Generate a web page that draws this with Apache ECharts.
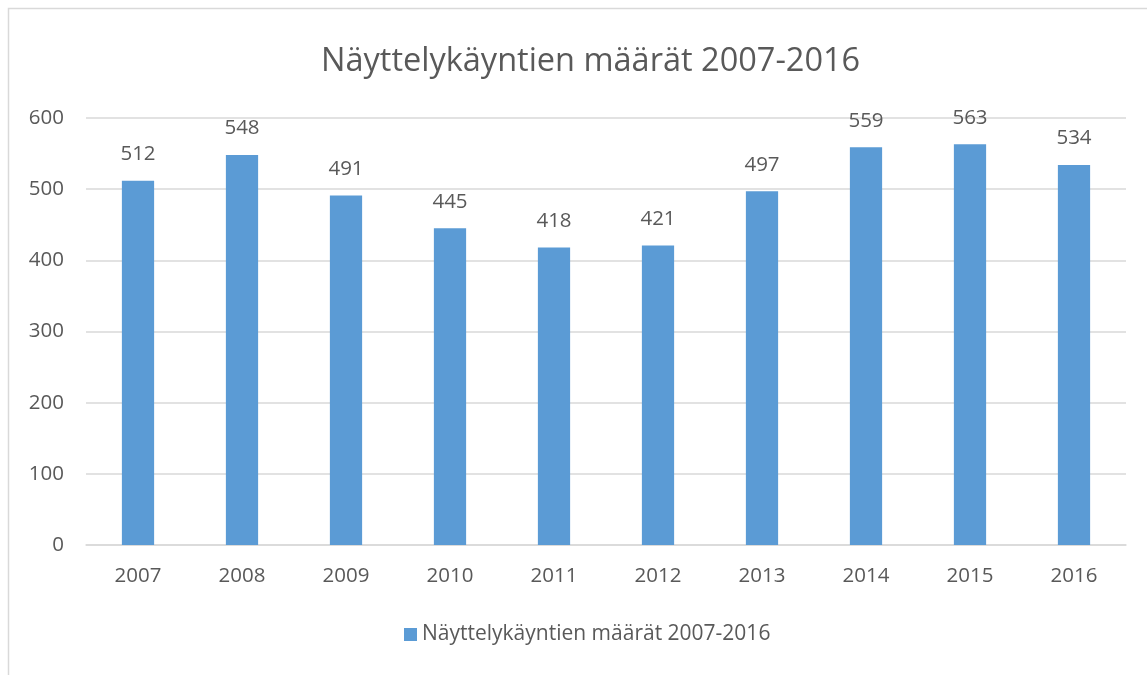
<!DOCTYPE html>
<html><head><meta charset="utf-8">
<script src="https://cdn.jsdelivr.net/npm/echarts@6/dist/echarts.min.js"></script>
<style>html,body{margin:0;padding:0;background:#fff}#c{width:1147px;height:675px}</style>
</head><body><div id="c"></div>
<script>
const categories = ['2007','2008','2009','2010','2011','2012','2013','2014','2015','2016'];
const values = [512,548,491,445,418,421,497,559,563,534];
const seriesName = 'Näyttelykäyntien määrät 2007-2016';
const titleText = 'Näyttelykäyntien määrät 2007-2016';

const FONT = 'Open Sans';
const TXT = '#595959';
const chart = echarts.init(document.getElementById('c'), null, {renderer:'canvas'});
chart.setOption({
  animation:false,
  backgroundColor:'#fff',
  graphic:[{type:'rect',shape:{x:8.5,y:8.5,width:1200,height:800},style:{fill:'none',stroke:'#D9D9D9',lineWidth:1.5},silent:true}],
  title:{text:titleText,left:316,top:40,textStyle:{fontFamily:FONT,fontSize:32.5,fontWeight:'normal',color:TXT}},
  legend:{bottom:25,left:399,itemWidth:13,itemHeight:13,itemGap:7,icon:'rect',
    textStyle:{fontFamily:FONT,fontSize:21,color:TXT},data:[seriesName]},
  grid:{left:86,right:21,top:118,bottom:130,containLabel:false},
  xAxis:{type:'category',data:categories,
    axisLine:{lineStyle:{color:'#D9D9D9',width:1.5}},axisTick:{show:false},
    axisLabel:{fontFamily:FONT,fontSize:20.5,color:TXT,margin:21}},
  yAxis:{type:'value',min:0,max:600,interval:100,
    axisLine:{show:false},axisTick:{show:false},
    splitLine:{lineStyle:{color:'#D9D9D9',width:1.5}},
    axisLabel:{fontFamily:FONT,fontSize:20.5,color:TXT,margin:22}},
  series:[{name:seriesName,type:'bar',data:values,barWidth:'31%',
    itemStyle:{color:'#5B9BD5'},
    label:{show:true,position:'top',distance:16,fontFamily:FONT,fontSize:20.5,color:TXT}}]
});
</script></body></html>
